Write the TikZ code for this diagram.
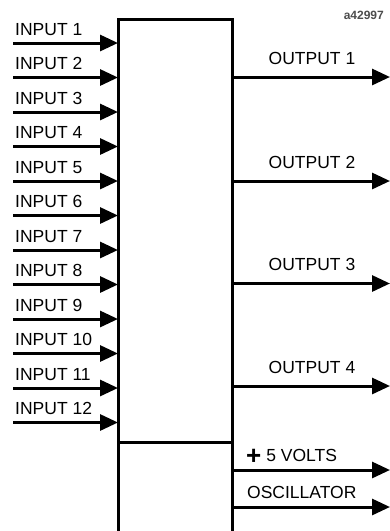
\documentclass[tikz,border=0pt]{standalone}
\usepackage{fontspec}
\setmainfont{Liberation Sans}
\usetikzlibrary{arrows.meta}
\begin{document}
\begin{tikzpicture}[x=1pt,y=-1pt,
  wire/.style={line width=3pt,-{Triangle[length=18pt,width=16pt]}},
  boxline/.style={line width=3pt,line join=miter},
  lbl/.style={font=\fontsize{17.5}{19}\selectfont,inner sep=0pt},
  tag/.style={font=\bfseries\fontsize{12}{14}\selectfont,inner sep=0pt,text=black!70}]
\useasboundingbox (0,0) rectangle (390,531);
% box (open at the bottom)
\coordinate (TL) at (118,19);
\coordinate (TR) at (232,19);
\coordinate (BL) at (118,533);
\coordinate (BR) at (232,533);
\draw[boxline] (BL) -- (TL) -- (TR) -- (BR);
\coordinate (DL) at (118,442);
\coordinate (DR) at (232,442);
\draw[boxline] (DL) -- (DR);
% inputs
\foreach \i in {1,...,12} {
  \pgfmathsetmacro\yy{43+34.5*(\i-1)}
  \coordinate (in\i) at (13,\yy);
  \coordinate (inE\i) at (118,\yy);
  \node[lbl,anchor=base west] (inL\i) at (15,\yy-8) {INPUT \i};
  \draw[wire] (in\i) -- (inE\i);
}
% outputs
\foreach \i/\yy in {1/77,2/181,3/283.5,4/386} {
  \coordinate (outS\i) at (232,\yy);
  \coordinate (out\i) at (390,\yy);
  \node[lbl,anchor=base] (outL\i) at (312,\yy-13) {OUTPUT \i};
  \draw[wire] (outS\i) -- (out\i);
}
% power and oscillator
\coordinate (pwS) at (232,470);
\coordinate (pw) at (390,470);
\node[lbl,anchor=base west] (pwL) at (246,461) {\raisebox{-3pt}{\bfseries\fontsize{26}{26}\selectfont +}\hspace{5pt}5 VOLTS};
\draw[wire] (pwS) -- (pw);
\coordinate (osS) at (232,507);
\coordinate (os) at (390,507);
\node[lbl,anchor=base west] (osL) at (247,498) {OSCILLATOR};
\draw[wire] (osS) -- (os);
% figure tag
\node[tag,anchor=base east] (fig) at (384,19) {a42997};
\end{tikzpicture}
\end{document}
